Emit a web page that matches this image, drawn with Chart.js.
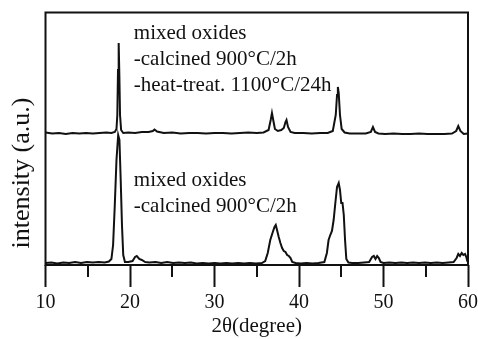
<!DOCTYPE html>
<html><head><meta charset="utf-8">
<script src="https://cdn.jsdelivr.net/npm/chart.js@4/dist/chart.umd.min.js"></script>
<style>html,body{margin:0;padding:0;background:#fff;}</style>
</head><body>
<canvas id="c" width="478" height="339"></canvas>
<script>
// ---- data ----
const upperX = [10, 10.8, 11.6, 12.4, 13.2, 14, 14.8, 15.6, 16.4, 17.2, 17.8, 18.2, 18.4, 18.5, 18.58, 18.66, 18.74, 18.82, 18.95, 19.2, 19.8, 20.6, 21.4, 22.2, 22.7, 22.9, 23.2, 24, 25, 26, 27, 28, 29, 30, 31, 32, 33, 34, 35, 35.8, 36.4, 36.65, 36.8, 36.95, 37.15, 37.5, 37.9, 38.2, 38.4, 38.52, 38.7, 39.0, 39.5, 40.5, 41.5, 42.5, 43.4, 44.0, 44.35, 44.5, 44.6, 44.7, 44.85, 45.05, 45.4, 46, 47, 47.9, 48.5, 48.75, 49.0, 49.4, 50.2, 51.2, 52.2, 53.2, 54.2, 55.2, 56.2, 57.2, 58.1, 58.6, 58.85, 59.1, 59.5, 60];
const upperY = [132.5, 131.5, 132, 131, 132, 131.5, 132, 131.5, 132, 132.5, 132, 133, 136, 150, 195, 222, 190, 150, 135, 132, 132.5, 132, 133, 133, 134, 135.5, 133.5, 132, 132.5, 131.5, 132, 132, 131.5, 132, 132, 131.5, 132, 132.5, 132, 132.5, 135, 145, 152, 145, 136, 134, 135, 137, 143, 145, 138, 133, 132, 132, 131.5, 132, 132, 134, 150, 170, 178, 172, 150, 136, 132.5, 131.5, 131.5, 131.5, 133, 138, 133, 131.5, 131, 131.5, 131, 131, 131.5, 131, 131, 131, 131.5, 134, 139, 134, 131, 131.5];

const lowerX = [10, 10.7, 11.4, 12.1, 12.8, 13.5, 14.2, 14.9, 15.6, 16.3, 17, 17.5, 17.8, 18.0, 18.2, 18.4, 18.6, 18.75, 18.9, 19.05, 19.2, 19.4, 19.8, 20.3, 20.6, 20.8, 21.1, 21.4, 21.8, 22.3, 23, 23.7, 24.4, 25.1, 25.8, 26.5, 27.2, 27.9, 28.6, 29.3, 30, 30.7, 31.4, 32.1, 32.8, 33.5, 34.2, 34.9, 35.6, 36.0, 36.3, 36.6, 36.9, 37.1, 37.25, 37.4, 37.6, 37.8, 38.0, 38.2, 38.4, 38.6, 38.8, 39.0, 39.2, 39.6, 40.2, 40.9, 41.6, 42.3, 43.0, 43.3, 43.5, 43.7, 43.9, 44.1, 44.3, 44.5, 44.7, 44.85, 45.0, 45.15, 45.3, 45.45, 45.6, 45.85, 46.3, 47, 47.7, 48.3, 48.65, 48.85, 49.05, 49.25, 49.45, 49.65, 50, 50.7, 51.4, 52.1, 52.8, 53.5, 54.2, 54.9, 55.6, 56.3, 57, 57.7, 58.3, 58.65, 58.85, 59.05, 59.25, 59.45, 59.65, 59.8, 59.92, 60];
const lowerY = [2, 2.5, 1.5, 2.5, 2, 3, 2, 3, 2.5, 3, 2.5, 3.5, 6, 20, 60, 105, 130, 125, 85, 40, 10, 3, 3, 4, 8, 9, 6, 5, 3, 2.5, 3, 2, 3, 2, 2.5, 2, 2.5, 1.5, 2, 1.5, 2, 1.5, 2, 1.5, 2, 1.5, 2, 1.5, 2, 4, 12, 25, 33, 38, 40, 35, 28, 22, 17, 14, 13, 10, 9, 7, 3, 2, 1.5, 2, 1.5, 2, 3, 12, 25, 30, 34, 45, 62, 78, 82, 75, 62, 62, 50, 25, 6, 2.5, 2, 2, 2.5, 3, 8, 9, 6, 9, 7, 3, 2, 2.5, 2, 2.5, 2, 2.5, 2, 2.5, 2, 2.5, 2, 2.5, 3, 7, 11, 9, 12, 10, 11, 8, 4, 3];

const xTickValues = [10, 20, 30, 40, 50, 60];
const xTitle = '2θ(degree)';
const yTitle = 'intensity (a.u.)';
const upperLabel = ['mixed oxides', '-calcined 900°C/2h', '-heat-treat. 1100°C/24h'];
const lowerLabel = ['mixed oxides', '-calcined 900°C/2h'];

const FONT = "'Liberation Serif', 'Times New Roman', serif";
const INK = '#111';

const pts = (xs, ys) => xs.map((x, i) => ({x: x, y: ys[i]}));

const framePlugin = {
  id: 'frame',
  afterDraw(chart) {
    const {ctx, chartArea: a, scales} = chart;
    ctx.save();
    ctx.strokeStyle = INK;
    ctx.lineWidth = 2;
    ctx.strokeRect(a.left, a.top, a.right - a.left, a.bottom - a.top);
    // minor ticks (outward, shorter)
    const sx = scales.x;
    sx.ticks.forEach(t => {
      if (!xTickValues.includes(t.value)) {
        const px = Math.round(sx.getPixelForValue(t.value));
        ctx.beginPath();
        ctx.moveTo(px, a.bottom);
        ctx.lineTo(px, a.bottom + 12);
        ctx.stroke();
      }
    });
    // y title, centred on the figure height
    ctx.fillStyle = INK;
    ctx.font = '26px ' + FONT;
    ctx.textAlign = 'center';
    ctx.textBaseline = 'middle';
    ctx.translate(22, 173);
    ctx.rotate(-Math.PI / 2);
    ctx.fillText(yTitle, 0, 0);
    ctx.restore();
    // annotations
    ctx.save();
    ctx.fillStyle = INK;
    ctx.font = '21px ' + FONT;
    ctx.textAlign = 'left';
    ctx.textBaseline = 'alphabetic';
    const lx = sx.getPixelForValue(20.45);
    const sy = scales.y;
    upperLabel.forEach((s, i) => ctx.fillText(s, lx, sy.getPixelForValue(226.5) + i * 26.3));
    lowerLabel.forEach((s, i) => ctx.fillText(s, lx, sy.getPixelForValue(79.5) + i * 26));
    ctx.restore();
  }
};

new Chart(document.getElementById('c'), {
  type: 'line',
  data: {
    datasets: [
      {data: pts(upperX, upperY), borderColor: INK, borderWidth: 2, pointRadius: 0, tension: 0, fill: false},
      {data: pts(lowerX, lowerY), borderColor: INK, borderWidth: 2, pointRadius: 0, tension: 0, fill: false}
    ]
  },
  options: {
    responsive: false,
    animation: false,
    events: [],
    layout: {padding: {left: 0, right: 10, top: 12.5, bottom: 0}},
    plugins: {legend: {display: false}, tooltip: {enabled: false}},
    scales: {
      x: {
        type: 'linear', min: 10, max: 60,
        ticks: {
          stepSize: 5, autoSkip: false, maxRotation: 0, padding: 4, color: INK,
          font: {family: FONT, size: 20},
          callback: v => xTickValues.includes(v) ? String(v) : ''
        },
        grid: {
          display: true, drawOnChartArea: false, tickLength: 22, tickWidth: 2,
          tickColor: c => (c.tick && xTickValues.includes(c.tick.value)) ? INK : 'rgba(0,0,0,0)'
        },
        border: {display: false},
        title: {display: true, text: xTitle, color: INK, font: {family: FONT, size: 21}, padding: {top: 0, bottom: 0}},
        afterFit: s => { s.height = 74; s.paddingLeft = 0; s.paddingRight = 0; }
      },
      y: {
        min: 0, max: 252.5,
        ticks: {display: false},
        grid: {display: false},
        border: {display: false},
        afterFit: s => { s.width = 45.5; }
      }
    }
  },
  plugins: [framePlugin]
});
</script>
</body></html>
